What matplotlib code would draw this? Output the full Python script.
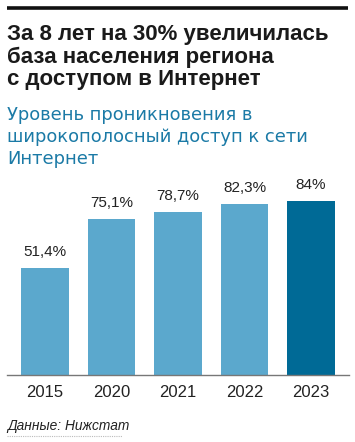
import matplotlib
matplotlib.use("Agg")
import matplotlib.pyplot as plt
from matplotlib.lines import Line2D

years = ["2015", "2020", "2021", "2022", "2023"]
values = [51.4, 75.1, 78.7, 82.3, 84.0]
labels = ["51,4%", "75,1%", "78,7%", "82,3%", "84%"]
colors = ["#5ba8cd", "#5ba8cd", "#5ba8cd", "#5ba8cd", "#006a96"]

title_lines = ["За 8 лет на 30% увеличилась", "база населения региона", "с доступом в Интернет"]
subtitle_lines = ["Уровень проникновения в", "широкополосный доступ к сети", "Интернет"]
source = "Данные: Нижстат"

W, H = 355, 442
fig = plt.figure(figsize=(W / 100, H / 100), dpi=100)
fig.patch.set_facecolor("white")

def fx(px):
    return px / W

def fy(py):
    return 1 - py / H

# top rule
fig.add_artist(Line2D([fx(7), fx(348)], [fy(8.3), fy(8.3)], color="#111111", lw=2.6,
                      transform=fig.transFigure, solid_capstyle="butt"))

for i, line in enumerate(title_lines):
    fig.text(fx(7), fy(40 + 22.5 * i), line, ha="left", va="baseline", fontsize=16.0,
             fontweight="bold", family="Liberation Sans", color="#1a1a1a")
for i, line in enumerate(subtitle_lines):
    fig.text(fx(7), fy(120 + 22 * i), line, ha="left", va="baseline", fontsize=12.9,
             family="DejaVu Sans", color="#1b7aa6")

ax = fig.add_axes([fx(7), 67 / H, fx(342), 195 / H])
x = list(range(len(years)))
ax.bar(x, values, width=0.72, color=colors, edgecolor="none", zorder=2)
ax.set_xlim(-0.571, 4.571)
ax.set_ylim(0, 195 / 2.075)
for i, (v, lab) in enumerate(zip(values, labels)):
    ax.annotate(lab, (i, v), xytext=(0, 6.5), textcoords="offset points", ha="center",
                va="bottom", fontsize=11, family="Liberation Sans", color="#222222")
ax.set_xticks(x)
ax.set_xticklabels(years, fontsize=12, family="Liberation Sans", color="#222222")
ax.tick_params(axis="x", length=0, pad=7)
ax.set_yticks([])
for s in ["top", "right", "left"]:
    ax.spines[s].set_visible(False)
ax.spines["bottom"].set_color("#777777")
ax.spines["bottom"].set_linewidth(1.0)
ax.set_facecolor("none")

fig.text(fx(7), fy(430), source, ha="left", va="baseline", fontsize=9.9, style="italic",
         family="Liberation Sans", color="#222222")
fig.add_artist(Line2D([fx(7), fx(122)], [fy(436), fy(436)], color="#bbbbbb", lw=0.8,
                      linestyle=(0, (1, 1)), transform=fig.transFigure))

fig.savefig("out.png", dpi=100)
